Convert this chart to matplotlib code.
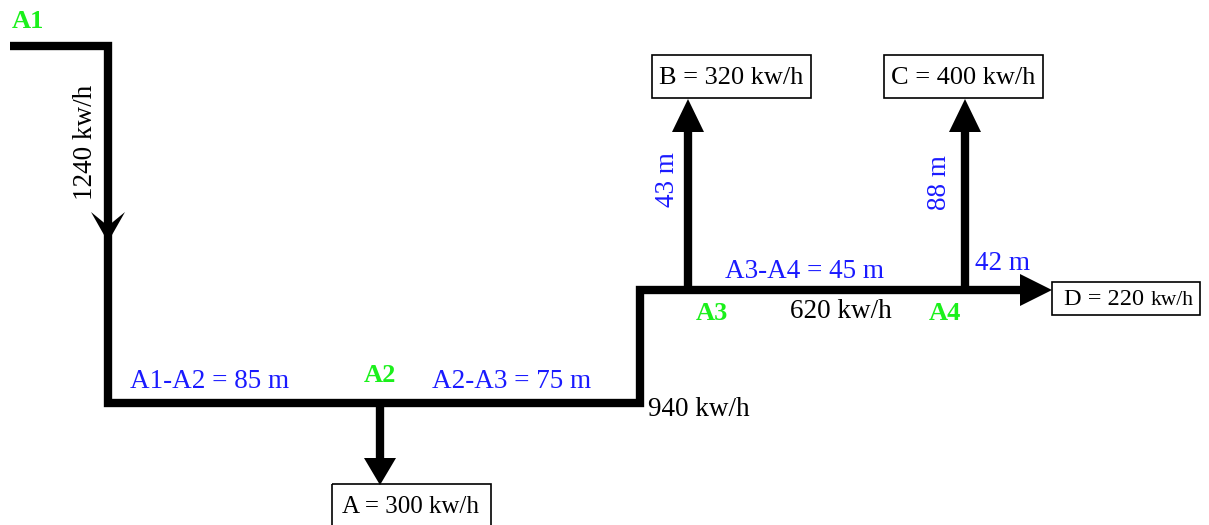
import matplotlib
matplotlib.use("Agg")
import matplotlib.pyplot as plt
from matplotlib.patches import Polygon, Rectangle

# ---- diagram data ----
node_names = ["A1", "A2", "A3", "A4"]
segment_labels = ["A1-A2 = 85 m", "A2-A3 = 75 m", "A3-A4 = 45 m"]
branch_lengths = ["43 m", "88 m", "42 m"]
flow_labels = ["1240 kw/h", "940 kw/h", "620 kw/h"]
consumers = ["A", "B", "C", "D"]
consumer_loads = [300, 320, 400, 220]

# ---- layout (pixel coords of the 1209x525 canvas) ----
W, H = 1209, 525
main_path = [(10, 46), (108, 46), (108, 403), (640, 403), (640, 290), (1030, 290)]
branch_x = {"A": 380, "B": 688, "C": 965}
box_rect = {"A": (332, 484, 159, 44), "B": (652, 55, 159, 43),
            "C": (884, 55, 159, 43), "D": (1052, 282, 148, 33)}

SERIF = "Liberation Serif"
GREEN = "#1bf01b"
BLUE = "#1a1aff"
LW = 6.0
FS = 19.5

fig = plt.figure(figsize=(W / 100, H / 100), dpi=100)
ax = fig.add_axes([0, 0, 1, 1])
ax.set_xlim(0, W)
ax.set_ylim(H, 0)
ax.axis("off")

xs, ys = zip(*main_path)
ax.plot(xs, ys, color="black", lw=LW, solid_joinstyle="miter", solid_capstyle="butt")

# open chevron arrow on the feeder
ax.add_patch(Polygon([(108, 242), (91, 212), (108, 226), (125, 212)],
                     closed=True, color="black", lw=0))

# branches
ax.plot([branch_x["A"], branch_x["A"]], [403, 460], color="black", lw=LW, solid_capstyle="butt")
ax.add_patch(Polygon([(364, 458), (396, 458), (380, 485)], closed=True, color="black", lw=0))
for k in ["B", "C"]:
    x = branch_x[k]
    ax.plot([x, x], [290, 130], color="black", lw=LW, solid_capstyle="butt")
    ax.add_patch(Polygon([(x - 16, 132), (x + 16, 132), (x, 99)], closed=True, color="black", lw=0))
ax.add_patch(Polygon([(1020, 274), (1020, 306), (1052, 290)], closed=True, color="black", lw=0))

# consumer boxes
fig.canvas.draw()
for name, load in zip(consumers, consumer_loads):
    x0, y0, w, h = box_rect[name]
    ax.add_patch(Rectangle((x0, y0), w, h, fill=False, ec="black", lw=1.2))
    if name == "D":
        t1 = ax.text(x0 + 12, y0 + h / 2 + 1, f"{name} = {load} ", family=SERIF,
                     fontsize=17.5, va="center", ha="left")
        bb = t1.get_window_extent(fig.canvas.get_renderer()).transformed(ax.transData.inverted())
        ax.text(bb.x1, y0 + h / 2 + 2, "kw/h", family=SERIF, fontsize=15.5,
                va="center", ha="left")
    elif name == "A":
        ax.text(x0 + 10, y0 + 23, f"{name} = {load} kw/h", family=SERIF,
                fontsize=18, va="center", ha="left")
    else:
        ax.text(x0 + w / 2, y0 + h / 2 + 1, f"{name} = {load} kw/h", family=SERIF,
                fontsize=19, va="center", ha="center")

# node labels
node_pos = [(12, 22), (380, 375), (712, 314), (945, 314)]
for n, (x, y) in zip(node_names, node_pos):
    ax.text(x, y, n, family=SERIF, fontsize=19, fontweight="bold", color=GREEN,
            ha="left" if n == "A1" else "center", va="center")

# segment lengths
seg_pos = [(130, 382), (432, 382), (725, 271)]
for s, (x, y) in zip(segment_labels, seg_pos):
    ax.text(x, y, s, family=SERIF, fontsize=FS, color=BLUE, ha="left", va="center")

ax.text(668, 180, branch_lengths[0], family=SERIF, fontsize=FS, color=BLUE,
        rotation=90, ha="center", va="center")
ax.text(940, 183, branch_lengths[1], family=SERIF, fontsize=FS, color=BLUE,
        rotation=90, ha="center", va="center")
ax.text(975, 264, branch_lengths[2], family=SERIF, fontsize=FS, color=BLUE,
        ha="left", va="center")

# flows
ax.text(85, 142, flow_labels[0], family=SERIF, fontsize=FS, rotation=90,
        ha="center", va="center")
ax.text(648, 410, flow_labels[1], family=SERIF, fontsize=FS, ha="left", va="center")
ax.text(790, 311, flow_labels[2], family=SERIF, fontsize=FS, ha="left", va="center")

fig.savefig("out.png", dpi=100, facecolor="white")
